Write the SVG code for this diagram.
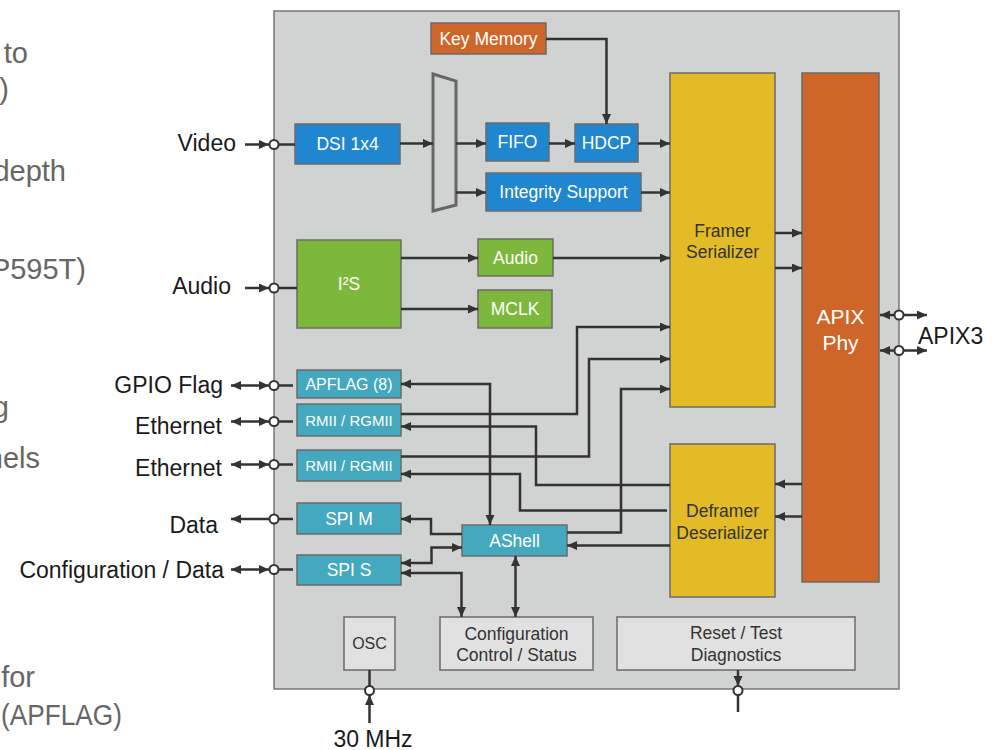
<svg xmlns="http://www.w3.org/2000/svg" width="994" height="750" viewBox="0 0 994 750">
<style>
text{font-family:"Liberation Sans",Arial,sans-serif}
.bg{fill:#d1d2d2;stroke:#777;stroke-width:1.5}
.box{stroke:#6b6b6b;stroke-width:1.5}
.blue{fill:#2186d0}
.teal{fill:#44a8be}
.green{fill:#7db83d}
.yellow{fill:#e3bb26}
.orange{fill:#cf6629}
.grey{fill:#e1e1e1}
.wt{fill:#fff;font-size:17.5px;text-anchor:middle}
.dt{fill:#333;font-size:17.5px;text-anchor:middle}
.ext{fill:#1a1a1a;font-size:23px}
.bgt{fill:#666;font-size:29px;text-anchor:end}
.ln{fill:none;stroke:#333;stroke-width:2.5}
.a{marker-end:url(#ah)}
.b{marker-start:url(#ah);marker-end:url(#ah)}
.s{marker-start:url(#ah)}
.pin{fill:#fff;stroke:#333;stroke-width:2}
</style>
<defs>
<marker id="ah" markerUnits="userSpaceOnUse" markerWidth="11" markerHeight="10" refX="10" refY="4.5" orient="auto-start-reverse" viewBox="0 0 11 10">
<path d="M0,0 L10,4.5 L0,9 z" fill="#333"/>
</marker>
</defs>
<rect width="994" height="750" fill="#fff"/>
<g id="background-text">
<text class="bgt" x="28" y="63">to</text>
<text class="bgt" x="9" y="99">)</text>
<text class="bgt" x="66" y="181">depth</text>
<text class="bgt" x="86" y="279">P595T)</text>
<text class="bgt" x="9" y="417">g</text>
<text class="bgt" x="40" y="468">nels</text>
<text class="bgt" x="35" y="687">for</text>
<text class="bgt" x="1" y="725" style="text-anchor:start" textLength="121" lengthAdjust="spacingAndGlyphs">(APFLAG)</text>
</g>
<g id="chip"><rect class="bg" x="274" y="11" width="625" height="678"/></g>
<g id="key-memory"><rect class="box orange" x="431" y="23" width="115" height="31"/><text class="wt" x="488.5" y="45">Key Memory</text></g>
<g id="dsi"><rect class="box blue" x="295" y="124" width="105" height="40"/><text class="wt" x="347.5" y="150">DSI 1x4</text></g>
<g id="mux"><polygon points="433,74 456,81 456,205 433,211" fill="none" stroke="#666" stroke-width="3"/></g>
<g id="fifo"><rect class="box blue" x="486" y="123" width="63" height="38"/><text class="wt" x="517.5" y="148">FIFO</text></g>
<g id="hdcp"><rect class="box blue" x="575" y="124" width="63" height="38"/><text class="wt" x="606.5" y="149">HDCP</text></g>
<g id="integrity"><rect class="box blue" x="486" y="173" width="155" height="38"/><text class="wt" x="563.5" y="198">Integrity Support</text></g>
<g id="i2s"><rect class="box green" x="297" y="240" width="104" height="88"/><text class="wt" x="349" y="290">I²S</text></g>
<g id="audio"><rect class="box green" x="478" y="239" width="75" height="37"/><text class="wt" x="515.5" y="264">Audio</text></g>
<g id="mclk"><rect class="box green" x="478" y="290" width="74" height="38"/><text class="wt" x="515" y="315">MCLK</text></g>
<g id="apflag"><rect class="box teal" x="297" y="370" width="104" height="28"/><text class="wt" x="349" y="390" style="font-size:16px">APFLAG (8)</text></g>
<g id="rmii1"><rect class="box teal" x="297" y="404" width="104" height="32"/><text class="wt" x="349" y="425.5" style="font-size:15px">RMII / RGMII</text></g>
<g id="rmii2"><rect class="box teal" x="297" y="450" width="104" height="31"/><text class="wt" x="349" y="471" style="font-size:15px">RMII / RGMII</text></g>
<g id="spim"><rect class="box teal" x="297" y="503" width="104" height="31"/><text class="wt" x="349" y="524.5">SPI M</text></g>
<g id="spis"><rect class="box teal" x="297" y="555" width="104" height="30"/><text class="wt" x="349" y="576">SPI S</text></g>
<g id="ashell"><rect class="box teal" x="462" y="525" width="105" height="31"/><text class="wt" x="514.5" y="547">AShell</text></g>
<g id="framer"><rect class="box yellow" x="670" y="73" width="105" height="334"/><text class="dt" x="722.5" y="237">Framer</text><text class="dt" x="722.5" y="258">Serializer</text></g>
<g id="deframer"><rect class="box yellow" x="670" y="444" width="105" height="153"/><text class="dt" x="722.5" y="517">Deframer</text><text class="dt" x="722.5" y="539">Deserializer</text></g>
<g id="apix-phy"><rect class="box orange" x="802" y="73" width="77" height="509"/><text class="wt" x="840.5" y="324" style="font-size:21px">APIX</text><text class="wt" x="840.5" y="350" style="font-size:21px">Phy</text></g>
<g id="osc"><rect class="box grey" x="344" y="617" width="51" height="53"/><text class="dt" x="369.5" y="649" style="font-size:16px">OSC</text></g>
<g id="config"><rect class="box grey" x="440" y="617" width="153" height="53"/><text class="dt" x="516.5" y="640">Configuration</text><text class="dt" x="516.5" y="661">Control / Status</text></g>
<g id="reset"><rect class="box grey" x="617" y="617" width="238" height="53"/><text class="dt" x="736" y="639">Reset / Test</text><text class="dt" x="736" y="661">Diagnostics</text></g>
<g id="labels">
<text class="ext" x="236" y="151" text-anchor="end">Video</text>
<text class="ext" x="231" y="294" text-anchor="end">Audio</text>
<text class="ext" x="223" y="393" text-anchor="end">GPIO Flag</text>
<text class="ext" x="222" y="434" text-anchor="end">Ethernet</text>
<text class="ext" x="222" y="476" text-anchor="end">Ethernet</text>
<text class="ext" x="218" y="533" text-anchor="end">Data</text>
<text class="ext" x="224" y="578" text-anchor="end">Configuration / Data</text>
<text class="ext" x="918" y="344">APIX3</text>
<text class="ext" x="373" y="747" text-anchor="middle">30 MHz</text>
</g>
<g id="connectors">
<path class="ln a" d="M245,144.5 H269"/>
<path class="ln" d="M279,144.5 H295"/>
<path class="ln a" d="M245,288 H269"/>
<path class="ln" d="M279,288 H297"/>
<path class="ln b" d="M231,385.5 H269"/>
<path class="ln" d="M279,385.5 H293"/>
<path class="ln b" d="M231,421.5 H269"/>
<path class="ln" d="M279,421.5 H293"/>
<path class="ln b" d="M231,464.5 H269"/>
<path class="ln" d="M279,464.5 H293"/>
<path class="ln s" d="M231,519 H269"/>
<path class="ln" d="M279,519 H293"/>
<path class="ln b" d="M231,569.5 H269"/>
<path class="ln" d="M279,569.5 H293"/>
<path class="ln a" d="M400,143.5 H433"/>
<path class="ln a" d="M456,143.5 H486"/>
<path class="ln a" d="M549,143.5 H575"/>
<path class="ln a" d="M638,143.5 H670"/>
<path class="ln a" d="M456,192.5 H486"/>
<path class="ln a" d="M641,192.5 H670"/>
<path class="ln a" d="M546,39 H606.5 V124"/>
<path class="ln a" d="M401,258 H478"/>
<path class="ln a" d="M401,309 H478"/>
<path class="ln a" d="M553,258 H670"/>
<path class="ln a" d="M775,233 H802"/>
<path class="ln a" d="M775,268 H802"/>
<path class="ln a" d="M802,484 H775"/>
<path class="ln a" d="M802,516.5 H775"/>
<path class="ln s" d="M880,315 H894.5"/>
<path class="ln a" d="M903.5,315 H927"/>
<path class="ln s" d="M880,350.5 H894.5"/>
<path class="ln a" d="M903.5,350.5 H927"/>
<path class="ln b" d="M401,384 H490 V525"/>
<path class="ln a" d="M401,414 H577 V327 H670"/>
<path class="ln s" d="M401,426.5 H536 V485 H670"/>
<path class="ln a" d="M401,456.5 H589 V359 H670"/>
<path class="ln s" d="M401,474 H520 V510.5 H667"/>
<path class="ln a" d="M567,532.5 H621 V389 H670"/>
<path class="ln a" d="M670,545.5 H567"/>
<path class="ln a" d="M462,534 H431 V519 H401"/>
<path class="ln b" d="M401,563 H431.5 V547.5 H462"/>
<path class="ln b" d="M401,573 H461.5 V617"/>
<path class="ln b" d="M515.5,556 V617"/>
<path class="ln" d="M369.5,670 V686"/>
<path class="ln a" d="M369.5,723 V695"/>
<path class="ln a" d="M738,670 V686"/>
<path class="ln" d="M738,695 V712"/>
</g>
<g id="pins">
<circle class="pin" cx="274" cy="144.5" r="4.5"/>
<circle class="pin" cx="274" cy="288" r="4.5"/>
<circle class="pin" cx="274" cy="385.5" r="4.5"/>
<circle class="pin" cx="274" cy="421.5" r="4.5"/>
<circle class="pin" cx="274" cy="464.5" r="4.5"/>
<circle class="pin" cx="274" cy="519" r="4.5"/>
<circle class="pin" cx="274" cy="569.5" r="4.5"/>
<circle class="pin" cx="899" cy="315" r="4.5"/>
<circle class="pin" cx="899" cy="350.5" r="4.5"/>
<circle class="pin" cx="369.5" cy="690.5" r="4.5"/>
<circle class="pin" cx="738" cy="690.5" r="4.5"/>
</g>
</svg>
